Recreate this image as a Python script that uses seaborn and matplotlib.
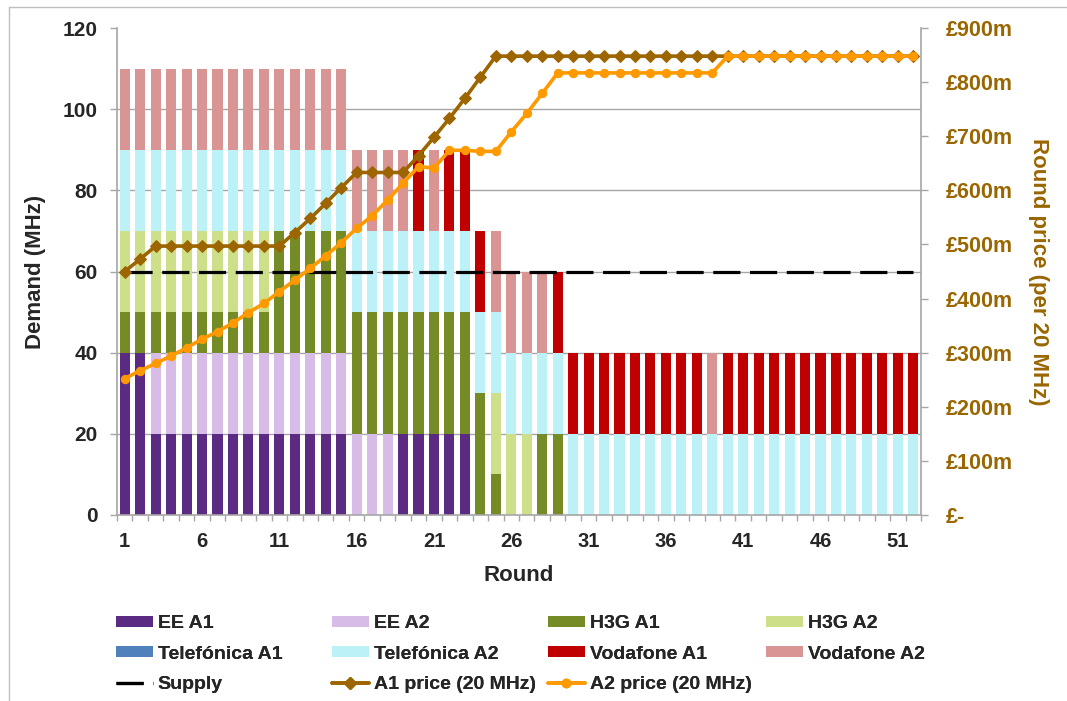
import numpy as np
import pandas as pd
import matplotlib
matplotlib.use("Agg")
import matplotlib.pyplot as plt
import seaborn as sns
from matplotlib.patches import Patch
from matplotlib.lines import Line2D
from matplotlib.ticker import FixedLocator

# ---------------- data ----------------
rounds = list(range(1, 53))

ee_a1 = [40, 40, 20, 20, 20, 20, 20, 20, 20, 20, 20, 20, 20, 20, 20, 0, 0, 0, 20, 20,
         20, 20, 20, 0, 0, 0, 0, 0, 0, 0, 0, 0, 0, 0, 0, 0, 0, 0, 0, 0,
         0, 0, 0, 0, 0, 0, 0, 0, 0, 0, 0, 0]
ee_a2 = [0, 0, 20, 20, 20, 20, 20, 20, 20, 20, 20, 20, 20, 20, 20, 20, 20, 20, 0, 0,
         0, 0, 0, 0, 0, 0, 0, 0, 0, 0, 0, 0, 0, 0, 0, 0, 0, 0, 0, 0,
         0, 0, 0, 0, 0, 0, 0, 0, 0, 0, 0, 0]
h3g_a1 = [10, 10, 10, 10, 10, 10, 10, 10, 10, 10, 30, 30, 30, 30, 30, 30, 30, 30, 30, 30,
          30, 30, 30, 30, 10, 0, 0, 20, 20, 0, 0, 0, 0, 0, 0, 0, 0, 0, 0, 0,
          0, 0, 0, 0, 0, 0, 0, 0, 0, 0, 0, 0]
h3g_a2 = [20, 20, 20, 20, 20, 20, 20, 20, 20, 20, 0, 0, 0, 0, 0, 0, 0, 0, 0, 0,
          0, 0, 0, 0, 20, 20, 20, 0, 0, 0, 0, 0, 0, 0, 0, 0, 0, 0, 0, 0,
          0, 0, 0, 0, 0, 0, 0, 0, 0, 0, 0, 0]
tel_a1 = [0, 0, 0, 0, 0, 0, 0, 0, 0, 0, 0, 0, 0, 0, 0, 0, 0, 0, 0, 0,
          0, 0, 0, 0, 0, 0, 0, 0, 0, 0, 0, 0, 0, 0, 0, 0, 0, 0, 0, 0,
          0, 0, 0, 0, 0, 0, 0, 0, 0, 0, 0, 0]
tel_a2 = [20, 20, 20, 20, 20, 20, 20, 20, 20, 20, 20, 20, 20, 20, 20, 20, 20, 20, 20, 20,
          20, 20, 20, 20, 20, 20, 20, 20, 20, 20, 20, 20, 20, 20, 20, 20, 20, 20, 20, 20,
          20, 20, 20, 20, 20, 20, 20, 20, 20, 20, 20, 20]
voda_a1 = [0, 0, 0, 0, 0, 0, 0, 0, 0, 0, 0, 0, 0, 0, 0, 0, 0, 0, 0, 20,
           0, 20, 20, 20, 0, 0, 0, 0, 20, 20, 20, 20, 20, 20, 20, 20, 20, 20, 0, 20,
           20, 20, 20, 20, 20, 20, 20, 20, 20, 20, 20, 20]
voda_a2 = [20, 20, 20, 20, 20, 20, 20, 20, 20, 20, 20, 20, 20, 20, 20, 20, 20, 20, 20, 0,
           20, 0, 0, 0, 20, 20, 20, 20, 0, 0, 0, 0, 0, 0, 0, 0, 0, 0, 20, 0,
           0, 0, 0, 0, 0, 0, 0, 0, 0, 0, 0, 0]
supply = [60] * 52

a1_price = [450, 473, 497, 497, 497, 497, 497, 497, 497, 497, 497, 522, 548, 576, 605, 633, 633, 633, 633, 664,
            698, 733, 770, 809, 848, 848, 848, 848, 848, 848, 848, 848, 848, 848, 848, 848, 848, 848, 848, 848,
            848, 848, 848, 848, 848, 848, 848, 848, 848, 848, 848, 848]
a2_price = [252, 267, 280, 294, 309, 325, 339, 355, 374, 391, 413, 434, 456, 479, 503, 530, 553, 582, 613, 644,
            641, 674, 674, 672, 672, 708, 742, 779, 817, 817, 817, 817, 817, 817, 817, 817, 817, 817, 817, 848,
            848, 848, 848, 848, 848, 848, 848, 848, 848, 848, 848, 848]

x_tick_vals = [1, 6, 11, 16, 21, 26, 31, 36, 41, 46, 51]
y_tick_vals = [0, 20, 40, 60, 80, 100, 120]
price_tick_vals = [0, 100, 200, 300, 400, 500, 600, 700, 800, 900]
price_tick_labels = ["£-", "£100m", "£200m", "£300m", "£400m", "£500m",
                     "£600m", "£700m", "£800m", "£900m"]

series_names = ["EE A1", "EE A2", "H3G A1", "H3G A2",
                "Telefónica A1", "Telefónica A2", "Vodafone A1", "Vodafone A2"]
series_vals = [ee_a1, ee_a2, h3g_a1, h3g_a2, tel_a1, tel_a2, voda_a1, voda_a2]
series_cols = ["#5B2A82", "#D8BCE8", "#758B26", "#CEDF8A",
               "#4F81BD", "#BDF1F8", "#C00000", "#D99594"]
A1_COL = "#9C6500"
A2_COL = "#FF9900"
AX_COL = "#996600"

# ---------------- style ----------------
sns.set_theme(style="white")
plt.rcParams["font.family"] = ["Liberation Sans", "DejaVu Sans"]
plt.rcParams["font.weight"] = "bold"
plt.rcParams["axes.labelweight"] = "bold"

fig = plt.figure(figsize=(10.67, 7.01), dpi=100)
W, H = 1067, 701
L, R, T, B = 117, 921, 28, 515
ax = fig.add_axes([L / W, 1 - B / H, (R - L) / W, (B - T) / H])

df = pd.DataFrame({"Round": rounds})
cum = np.zeros(len(rounds))
cums = []
for v in series_vals:
    cum = cum + np.array(v)
    cums.append(cum.copy())

# overlay cumulative bars from top to bottom to create the stack
for c, col in reversed(list(zip(cums, series_cols))):
    sns.barplot(x=df["Round"], y=c, native_scale=True, width=0.65, color=col,
                saturation=1, errorbar=None, linewidth=0, ax=ax, zorder=2)

sns.lineplot(x=rounds, y=supply, ax=ax, color="black", lw=2.3,
             dashes=False, zorder=3).lines[-1].set_dashes((8.5, 3))

ax.set_xlim(0.5, 52.5)
ax.set_ylim(0, 120)
ax.set_yticks(y_tick_vals, labels=[str(v) for v in y_tick_vals], fontweight="bold")
ax.yaxis.grid(True, color="#A6A6A6", lw=1)
ax.get_ygridlines()[-1].set_visible(False)
ax.get_ygridlines()[0].set_visible(False)
ax.set_axisbelow(True)
ax.set_xticks(x_tick_vals, labels=[str(r) for r in x_tick_vals], fontweight="bold")
ax.xaxis.set_minor_locator(FixedLocator(np.arange(0.5, 53, 1)))
ax.tick_params(axis="x", which="major", length=0, pad=12, labelsize=14.5)
ax.tick_params(axis="x", which="minor", length=4.5, width=1, color="#A6A6A6", direction="out", bottom=True)
ax.tick_params(axis="y", which="major", length=5, width=1, color="#A6A6A6", direction="out",
               left=True, pad=9, labelsize=15)
for s in ["top", "right"]:
    ax.spines[s].set_visible(False)
for s in ["left", "bottom"]:
    ax.spines[s].set_color("#A6A6A6")
    ax.spines[s].set_linewidth(1.2)
ax.set_xlabel("Round", fontsize=16, fontweight="bold", labelpad=10)
ax.set_ylabel("Demand (MHz)", fontsize=16, fontweight="bold", labelpad=12)

# ---------------- price axis ----------------
ax2 = ax.twinx()
sns.lineplot(x=rounds, y=a1_price, ax=ax2, color=A1_COL, lw=2.6, marker="D",
             markersize=6.5, markeredgecolor=A1_COL, zorder=4)
sns.lineplot(x=rounds, y=a2_price, ax=ax2, color=A2_COL, lw=2.6, marker="o",
             markersize=6, markeredgecolor=A2_COL, zorder=5)
ax2.set_ylim(0, 900)
ax2.set_yticks(price_tick_vals, labels=price_tick_labels, fontweight="bold")
ax2.tick_params(axis="y", which="major", length=5, width=1, color="#A6A6A6", direction="out",
                right=True, pad=13, labelsize=15.5, labelcolor=AX_COL)
for s in ["top", "left", "bottom"]:
    ax2.spines[s].set_visible(False)
ax2.spines["right"].set_color("#A6A6A6")
ax2.spines["right"].set_linewidth(1.2)
ax2.grid(False)
ax2.set_ylabel("Round price (per 20 MHz)", fontsize=16, fontweight="bold", color=AX_COL,
               rotation=270, labelpad=26)
ax2.set_xlim(0.5, 52.5)

# ---------------- legend (4 equal columns) ----------------
def patch(i):
    return Patch(facecolor=series_cols[i], edgecolor="none", label=series_names[i])

sup_h = Line2D([], [], color="black", lw=2.3, dashes=(8.5, 3), label="Supply")
a1_h = Line2D([], [], color=A1_COL, lw=2.6, marker="D", markersize=6.5, label="A1 price (20 MHz)")
a2_h = Line2D([], [], color=A2_COL, lw=2.6, marker="o", markersize=6, label="A2 price (20 MHz)")
columns = [[patch(0), patch(4), sup_h],
           [patch(1), patch(5), a1_h],
           [patch(2), patch(6), a2_h],
           [patch(3), patch(7)]]
col_x = [116, 332, 548, 766]
for hx, hs in zip(col_x, columns):
    lg = fig.legend(handles=hs, loc="upper left", bbox_to_anchor=(hx / W, 1 - 615 / H),
                    frameon=False, prop={"size": 14, "weight": "bold"}, borderpad=0,
                    borderaxespad=0, handlelength=1.9, handleheight=0.5, handletextpad=0.25,
                    labelspacing=0.7, numpoints=1)
    fig.add_artist(lg)

# chart-area border (top and left only visible)
fig.add_artist(Line2D([9 / W, 1], [1 - 7 / H, 1 - 7 / H], transform=fig.transFigure,
                      color="#BFBFBF", lw=1))
fig.add_artist(Line2D([9 / W, 9 / W], [0, 1 - 7 / H], transform=fig.transFigure,
                      color="#BFBFBF", lw=1))

fig.savefig("out.png", dpi=100)
